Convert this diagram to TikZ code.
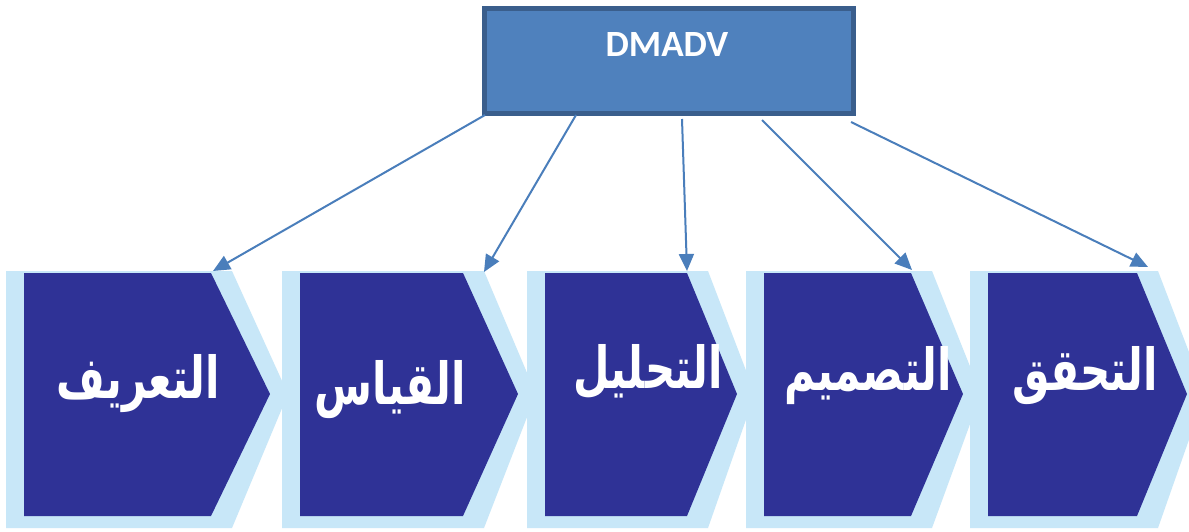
\documentclass[tikz,border=0pt]{standalone}
\usepackage{fontspec}
\usetikzlibrary{arrows.meta}
\TeXXeTstate=1
\setmainfont{Carlito}
\newfontfamily\arabicfont[Script=Arabic,BoldFont={DejaVu Sans Bold}]{DejaVu Sans}
\definecolor{navy}{RGB}{47,50,150}
\definecolor{lightband}{RGB}{200,231,248}
\definecolor{boxfill}{RGB}{79,129,189}
\definecolor{boxline}{RGB}{58,94,140}
\definecolor{arrowc}{RGB}{74,126,187}
\tikzset{
  topbox/.style={draw=boxline,line width=5pt,fill=boxfill,minimum width=369pt,minimum height=105pt,inner sep=0pt},
  boxtext/.style={text=white,font=\bfseries\fontsize{37}{40}\selectfont},
  steptext/.style={text=white,font=\arabicfont\bfseries\fontsize{42}{46}\selectfont,inner sep=0pt},
  link/.style={draw=arrowc,line width=2pt,-{Triangle[length=17pt,width=15pt]}},
  bandshape/.style={fill=lightband},
  darkshape/.style={fill=navy}
}
\newcommand{\chevronpair}[3]{%
  \fill[bandshape] (#1-18,271) -- (#2+21,271) -- (#3+18,394) -- (#2+21,528) -- (#1-18,528) -- cycle;
  \fill[darkshape] (#1,273) -- (#2,273) -- (#3,394) -- (#2,516) -- (#1,516) -- cycle;
}
\newcommand{\tallword}[1]{\scalebox{1}[1.38]{\beginR #1\endR}}
\begin{document}
\begin{tikzpicture}[x=1pt,y=-1pt]
\useasboundingbox[fill=white] (0,0) rectangle (1189,531);
% chevrons
\chevronpair{24}{211}{270}
\chevronpair{300}{463}{518}
\chevronpair{545}{687}{737}
\chevronpair{764}{911}{963}
\chevronpair{988}{1137}{1187}
% labels
\node[steptext] (c1) at (138,384) {\tallword{التعريف}};
\node[steptext] (c2) at (390,390) {\tallword{القياس}};
\node[steptext] (c3) at (648,372) {\tallword{التحليل}};
\node[steptext] (c4) at (868,376) {\tallword{التصميم}};
\node[steptext] (c5) at (1085,376) {\tallword{التحقق}};
% top box
\node[topbox] (top) at (669,60.5) {};
\node[boxtext] (title) at (667,44) {DMADV};
% arrow ends
\coordinate (s1) at (485,115);
\coordinate (s2) at (576,115);
\coordinate (s3) at (682,119);
\coordinate (s4) at (762,120);
\coordinate (s5) at (851,122);
\coordinate (e1) at (213,271);
\coordinate (e2) at (484,272);
\coordinate (e3) at (687,271);
\coordinate (e4) at (912,270);
\coordinate (e5) at (1148,267);
\draw[link] (s1) -- (e1);
\draw[link] (s2) -- (e2);
\draw[link] (s3) -- (e3);
\draw[link] (s4) -- (e4);
\draw[link] (s5) -- (e5);
\end{tikzpicture}
\end{document}
